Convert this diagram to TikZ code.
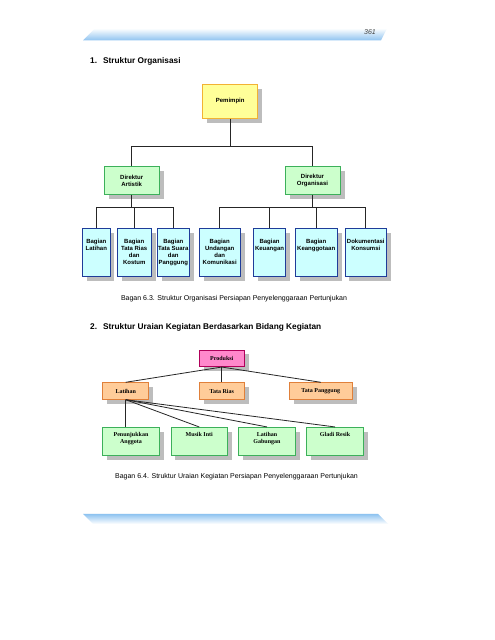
\documentclass[tikz,border=0pt]{standalone}
\usepackage{fontspec}
\setmainfont{Liberation Sans}
\newfontfamily\timesfont{Liberation Serif}
\usepackage{tikz}
\usetikzlibrary{shadows}

\definecolor{bandblue}{HTML}{8EC3F0}
\definecolor{pemfill}{HTML}{FFFF99}
\definecolor{pemline}{HTML}{F2B233}
\definecolor{dirfill}{HTML}{CCFFCC}
\definecolor{dirline}{HTML}{3CB05A}
\definecolor{bagfill}{HTML}{CCFFFF}
\definecolor{bagline}{HTML}{1F3C99}
\definecolor{prodfill}{HTML}{FF88CC}
\definecolor{prodline}{HTML}{B0005A}
\definecolor{bidfill}{HTML}{FFCC99}
\definecolor{bidline}{HTML}{E0803A}
\definecolor{shadowgray}{HTML}{BDBDBD}

\begin{document}
\begin{tikzpicture}[x=1pt, y=1pt,
    box/.style={draw, line width=0.8pt, inner sep=0pt, align=center,
        drop shadow={shadow xshift=4.5pt, shadow yshift=-4.5pt, fill=shadowgray, opacity=1}},
    orgfont/.style={font=\fontsize{6}{7}\selectfont\bfseries},
    kegfont/.style={font=\timesfont\fontsize{6}{7.4}\selectfont\bfseries},
    pembox/.style={box, orgfont, fill=pemfill, draw=pemline, minimum width=55pt, minimum height=34pt},
    dirbox/.style={box, orgfont, fill=dirfill, draw=dirline, minimum width=55pt, minimum height=27.6pt},
    bagbox/.style={box, fill=bagfill, draw=bagline, minimum height=47.7pt},
    bagtext/.style={orgfont, anchor=north, yshift=-11.5pt, inner sep=0pt, align=center},
    prodbox/.style={box, kegfont, fill=prodfill, draw=prodline, minimum width=45pt, minimum height=16.7pt},
    bidbox/.style={box, kegfont, fill=bidfill, draw=bidline, minimum height=16.6pt},
    kegbox/.style={box, fill=dirfill, draw=dirline, minimum width=56.6pt, minimum height=27.7pt},
    kegtext/.style={kegfont, anchor=north, yshift=-5pt, inner sep=0pt, align=center},
    link/.style={black!85, line width=0.8pt},
    heading/.style={anchor=west, inner sep=0pt, font=\fontsize{8.3}{10}\selectfont\bfseries},
    caption/.style={inner sep=0pt, font=\fontsize{7}{8}\selectfont}
]
    \path[fill=white] (0,0) rectangle (495,640);
    \useasboundingbox (0,0) rectangle (495,640);

    % Page bands
    \shade[top color=white, bottom color=bandblue] (83,599.5) -- (95,611.7) -- (387,611.7) -- (381,599.5) -- cycle;
    \node[inner sep=0pt, text=black!75, font=\fontsize{7}{8}\selectfont\itshape] (halaman) at (370,608.3) {361};
    \shade[top color=bandblue, bottom color=white] (83,126) -- (93,116) -- (388,116) -- (378,126) -- cycle;

    \node[heading] (judulA) at (90,579) {1.\hspace{6pt}Struktur Organisasi};

    % Struktur organisasi
    \node[pembox] (pem) at (230.2,538.8) {Pemimpin};
    \node[dirbox] (dirA) at (131.7,459.5) {Direktur\\Artistik};
    \node[dirbox] (dirO) at (312.5,459.5) {Direktur\\Organisasi};

    \node[bagbox, minimum width=27.3pt, label={[bagtext]north:{Bagian\\Latihan}}] (bLatihan) at (96.3,387.8) {};
    \node[bagbox, minimum width=33.7pt, label={[bagtext]north:{Bagian\\Tata Rias\\dan\\Kostum}}] (bRias) at (134.2,387.8) {};
    \node[bagbox, minimum width=32pt, label={[bagtext]north:{Bagian\\Tata Suara\\dan\\Panggung}}] (bSuara) at (173.3,387.8) {};
    \node[bagbox, minimum width=40.7pt, label={[bagtext]north:{Bagian\\Undangan\\dan\\Komunikasi}}] (bUndangan) at (219.7,387.8) {};
    \node[bagbox, minimum width=32.4pt, label={[bagtext]north:{Bagian\\Keuangan}}] (bKeuangan) at (269.5,387.8) {};
    \node[bagbox, minimum width=42.3pt, label={[bagtext]north:{Bagian\\Keanggotaan}}] (bAnggota) at (316.2,387.8) {};
    \node[bagbox, minimum width=41.7pt, label={[bagtext]north:{Dokumentasi\\Konsumsi}}] (bDokumen) at (365.8,387.8) {};

    \coordinate (busPem) at (230.2,494);
    \coordinate (busA) at (131.7,432.3);
    \coordinate (busO) at (312.5,432.3);

    \draw[link] (pem.south) -- (busPem) -| (dirA.north);
    \draw[link] (busPem) -| (dirO.north);
    \draw[link] (dirA.south) -- (busA);
    \draw[link] (dirO.south) -- (busO);
    \foreach \bag in {bLatihan, bRias, bSuara} {
        \draw[link] (busA) -| (\bag.north);
    }
    \foreach \bag in {bUndangan, bKeuangan, bAnggota, bDokumen} {
        \draw[link] (busO) -| (\bag.north);
    }

    \node[caption] (bagan63) at (234,341) {Bagan 6.3. Struktur Organisasi Persiapan Penyelenggaraan Pertunjukan};

    \node[heading] (judulB) at (90,312.3) {2.\hspace{6pt}Struktur Uraian Kegiatan Berdasarkan Bidang Kegiatan};

    % Uraian kegiatan
    \node[prodbox] (prod) at (221.8,281.7) {Produksi};
    \node[bidbox, minimum width=46pt] (lat) at (125.7,249) {Latihan};
    \node[bidbox, minimum width=45pt] (rias) at (221.8,249) {Tata Rias};
    \node[bidbox, minimum width=63pt] (pang) at (320.8,249) {Tata Panggung};

    \node[kegbox, label={[kegtext]north:{Penunjukkan\\Anggota}}] (pen) at (131,198.8) {};
    \node[kegbox, label={[kegtext]north:{Musik Inti}}] (musik) at (199.2,198.8) {};
    \node[kegbox, label={[kegtext]north:{Latihan\\Gabungan}}] (gab) at (267,198.8) {};
    \node[kegbox, label={[kegtext]north:{Gladi Resik}}] (gladi) at (335,198.8) {};

    \foreach \bid in {lat, rias, pang} {
        \draw[link] (prod.south) -- (\bid.north);
    }
    \draw[link] (lat.south) -- (lat.south |- pen.north);
    \foreach \keg in {musik, gab, gladi} {
        \draw[link] (lat.south) -- (\keg.north);
    }

    \node[caption] (bagan64) at (236.5,163.3) {Bagan 6.4. Struktur Uraian Kegiatan Persiapan Penyelenggaraan Pertunjukan};
\end{tikzpicture}
\end{document}
